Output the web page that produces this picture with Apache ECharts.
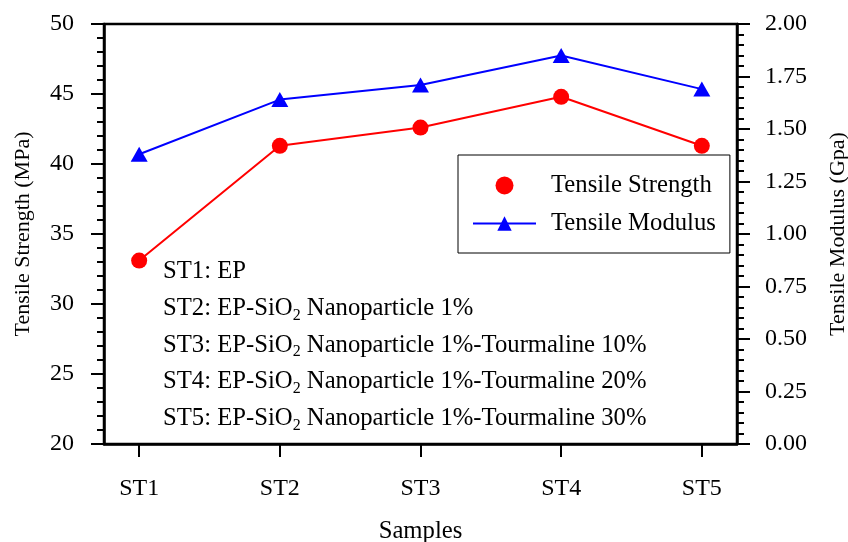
<!DOCTYPE html>
<html>
<head>
<meta charset="utf-8">
<script src="https://cdn.jsdelivr.net/npm/echarts@6/dist/echarts.min.js"></script>
<style>html,body{margin:0;padding:0;background:#fff}#c{width:848px;height:542px}</style>
</head>
<body>
<div id="c"></div>
<script>
var categories = ['ST1', 'ST2', 'ST3', 'ST4', 'ST5'];
var tensileStrength = [33.1, 41.3, 42.6, 44.8, 41.3];
var tensileModulus = [1.38, 1.64, 1.71, 1.85, 1.69];
var leftTicks = [20, 25, 30, 35, 40, 45, 50];
var rightTicks = [0, 0.25, 0.5, 0.75, 1, 1.25, 1.5, 1.75, 2];
var noteLines = [
  ['ST1: EP', '', ''],
  ['ST2: EP-SiO', '2', ' Nanoparticle 1%'],
  ['ST3: EP-SiO', '2', ' Nanoparticle 1%-Tourmaline 10%'],
  ['ST4: EP-SiO', '2', ' Nanoparticle 1%-Tourmaline 20%'],
  ['ST5: EP-SiO', '2', ' Nanoparticle 1%-Tourmaline 30%']
];

var FONT = 'Liberation Serif';
var chart = echarts.init(document.getElementById('c'), null, {renderer: 'canvas'});

var graphics = noteLines.map(function (l, i) {
  var txt = '{m|' + l[0] + '}' + (l[1] ? '{s|' + l[1] + '}' : '') + (l[2] ? '{m|' + l[2] + '}' : '');
  return {
    type: 'text',
    left: 163,
    top: 259 + i * 36.8,
    z: 10,
    style: {
      text: txt,
      rich: {
        m: {fontFamily: FONT, fontSize: 24.7, lineHeight: 30, fill: '#000', verticalAlign: 'middle'},
        s: {fontFamily: FONT, fontSize: 16, lineHeight: 16, fill: '#000', verticalAlign: 'bottom'}
      }
    }
  };
});

var axisCommon = {
  axisLine: {show: true, lineStyle: {color: '#000', width: 2.5}},
  axisTick: {show: true, inside: false, length: 13, lineStyle: {color: '#000', width: 2}},
  minorTick: {show: true, splitNumber: 5, length: 7, lineStyle: {color: '#000', width: 2}},
  splitLine: {show: false},
  minorSplitLine: {show: false},
  axisLabel: {fontFamily: FONT, fontSize: 24, color: '#000'},
  nameTextStyle: {fontFamily: FONT, fontSize: 22, color: '#000'}
};

var option = {
  animation: false,
  backgroundColor: '#fff',
  grid: {left: 104, right: 111, top: 24, bottom: 98, containLabel: false, outerBoundsMode: 'none',
    show: true, borderColor: '#000', borderWidth: 2.5, backgroundColor: 'transparent'},
  legend: {
    orient: 'vertical',
    left: 458,
    top: 155,
    padding: [18, 14, 17, 14],
    itemGap: 13,
    itemWidth: 63,
    itemHeight: 18,
    borderColor: '#000',
    borderWidth: 1,
    borderRadius: 0,
    textStyle: {fontFamily: FONT, fontSize: 24.7, lineHeight: 24, color: '#000', padding: [0, 0, 0, 10]},
    data: [{name: 'Tensile Strength', icon: 'circle'}, {name: 'Tensile Modulus'}]
  },
  xAxis: Object.assign({}, axisCommon, {
    type: 'value',
    min: 0.75,
    max: 5.25,
    name: 'Samples',
    nameLocation: 'middle',
    nameGap: 75,
    nameTextStyle: {fontFamily: FONT, fontSize: 24.7, color: '#000'},
    axisTick: {show: true, inside: false, length: 13, customValues: [1, 2, 3, 4, 5], lineStyle: {color: '#000', width: 2}},
    minorTick: {show: false},
    axisLabel: {fontFamily: FONT, fontSize: 24, color: '#000', margin: 33, customValues: [1, 2, 3, 4, 5],
      formatter: function (v) { return categories[Math.round(v) - 1]; }}
  }),
  yAxis: [
    Object.assign({}, axisCommon, {
      type: 'value', min: leftTicks[0], max: leftTicks[leftTicks.length - 1], interval: 5,
      position: 'left',
      name: 'Tensile Strength (MPa)', nameLocation: 'middle', nameGap: 70, nameRotate: 90,
      axisLabel: {fontFamily: FONT, fontSize: 24, color: '#000', margin: 30}
    }),
    Object.assign({}, axisCommon, {
      type: 'value', min: rightTicks[0], max: rightTicks[rightTicks.length - 1], interval: 0.25,
      position: 'right',
      name: 'Tensile Modulus (Gpa)', nameLocation: 'middle', nameGap: 90, nameRotate: 90,
      axisLabel: {fontFamily: FONT, fontSize: 24, color: '#000', margin: 28,
        formatter: function (v) { return v.toFixed(2); }}
    })
  ],
  series: [
    {
      name: 'Tensile Strength', type: 'line', yAxisIndex: 0,
      data: tensileStrength.map(function (v, i) { return [i + 1, v]; }),
      symbol: 'circle', symbolSize: 16,
      lineStyle: {color: '#ff0000', width: 2},
      itemStyle: {color: '#ff0000'}
    },
    {
      name: 'Tensile Modulus', type: 'line', yAxisIndex: 1,
      data: tensileModulus.map(function (v, i) { return [i + 1, v]; }),
      symbol: 'triangle', symbolSize: [17, 15],
      lineStyle: {color: '#0000ff', width: 2},
      itemStyle: {color: '#0000ff'}
    }
  ],
  graphic: graphics
};
chart.setOption(option);
</script>
</body>
</html>
